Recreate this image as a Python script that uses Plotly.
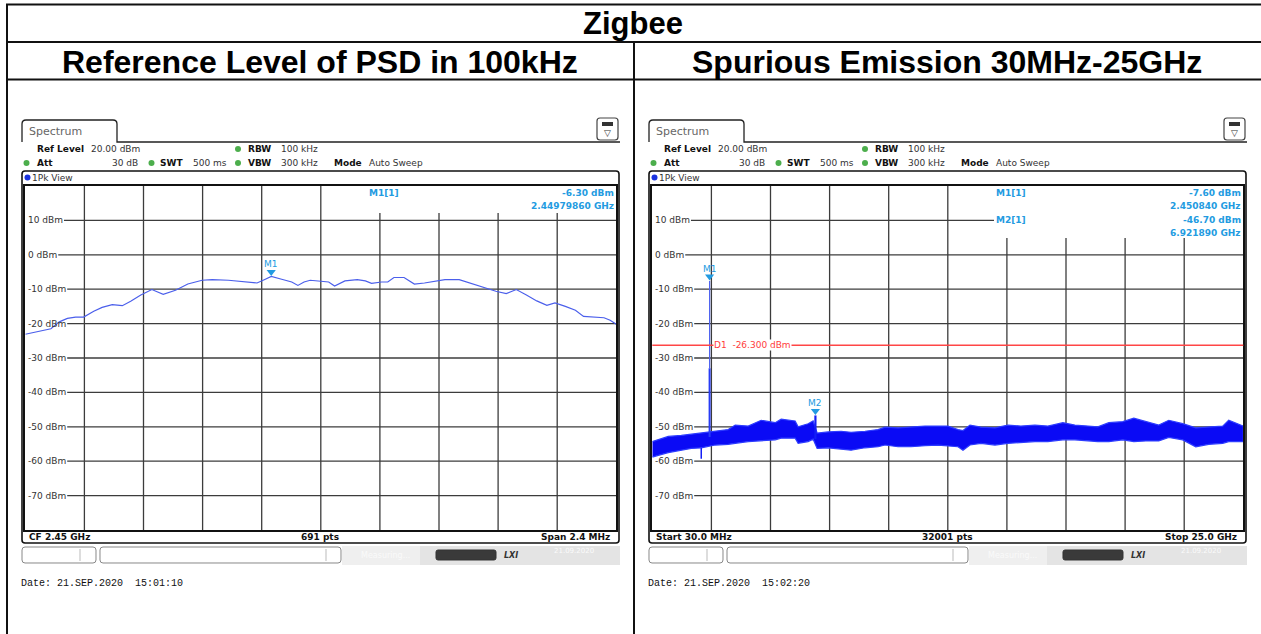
import plotly.graph_objects as go

W, H = 1261, 634

# ---------------- data ----------------
title_main = "Zigbee"
title_left = "Reference Level of PSD in 100kHz"
title_right = "Spurious Emission 30MHz-25GHz"

ref_level_dbm = 20
bottom_dbm = -80
y_tick_dbm = [10, 0, -10, -20, -30, -40, -50, -60, -70]

# left: PSD in 100 kHz, CF 2.45 GHz, span 2.4 MHz
psd_cf_ghz = 2.45
psd_span_mhz = 2.4
psd_offset_mhz = [-1.2, -1.137, -1.096, -1.062, -1.029, -0.996, -0.963, -0.922, -0.888, -0.847,
                  -0.806, -0.772, -0.731, -0.686, -0.640, -0.590, -0.540, -0.482, -0.441, -0.375,
                  -0.308, -0.259, -0.234, -0.201, -0.159, -0.118, -0.093, -0.068, -0.043, 0.007,
                  0.032, 0.056, 0.098, 0.148, 0.181, 0.206, 0.247, 0.272, 0.297, 0.338,
                  0.380, 0.421, 0.454, 0.504, 0.562, 0.620, 0.670, 0.711, 0.753, 0.794,
                  0.835, 0.877, 0.918, 0.951, 0.993, 1.034, 1.067, 1.109, 1.150, 1.175, 1.2]
psd_dbm = [-23.1, -22.2, -21.5, -19.5, -18.5, -18.1, -18.1, -16.4, -15.3, -14.5,
           -14.8, -13.5, -11.7, -10.1, -11.5, -10.3, -8.5, -7.4, -7.2, -7.4,
           -7.9, -8.2, -7.4, -6.3, -7.1, -7.9, -8.9, -7.9, -7.4, -7.6,
           -7.9, -9.1, -7.6, -7.2, -7.6, -8.3, -7.9, -7.9, -6.6, -6.6,
           -8.5, -8.2, -7.8, -7.2, -7.2, -8.5, -9.5, -10.6, -11.3, -10.1,
           -11.7, -13.4, -14.7, -14.0, -15.0, -16.1, -17.9, -18.1, -18.3, -19.0, -20.2]
psd_m1_ghz = 2.4497986
psd_m1_dbm = -6.30

# right: spurious emission 30 MHz - 25 GHz (noise band envelope)
spur_start_ghz = 0.03
spur_stop_ghz = 25.0
spur_freq_ghz = [0.030, 0.283, 0.705, 1.254, 1.676, 2.098, 2.394, 2.689, 3.238, 3.533,
                 4.082, 4.631, 5.222, 5.475, 6.066, 6.192, 6.614, 6.826, 6.994, 7.459,
                 8.007, 8.429, 9.020, 9.569, 9.864, 10.413, 10.962, 11.553, 12.101, 12.524,
                 12.946, 13.157, 13.452, 13.916, 14.507, 15.056, 15.605, 16.196, 16.744, 17.377,
                 17.884, 18.432, 18.854, 19.319, 19.910, 20.374, 20.881, 21.429, 21.851, 22.442,
                 22.991, 23.539, 24.130, 24.383, 25.000]
spur_upper_dbm = [-54.3, -53.8, -52.8, -52.5, -52.1, -51.8, -51.5, -51.3, -50.8, -49.5,
                  -49.8, -48.1, -48.8, -47.8, -48.3, -50.0, -49.1, -48.3, -51.8, -51.5,
                  -51.3, -51.6, -51.3, -50.8, -50.1, -50.3, -50.0, -49.8, -49.8, -49.8,
                  -50.8, -51.1, -49.5, -50.1, -50.3, -49.5, -49.8, -49.5, -49.8, -48.8,
                  -49.5, -49.8, -50.0, -48.8, -48.5, -47.5, -48.5, -49.5, -48.1, -49.1,
                  -50.3, -50.0, -49.8, -48.1, -49.8]
spur_lower_dbm = [-58.8, -58.3, -57.5, -56.8, -56.3, -56.1, -55.8, -55.3, -55.1, -54.8,
                  -54.3, -54.1, -53.8, -53.3, -53.3, -54.8, -54.3, -53.6, -56.3, -56.1,
                  -56.5, -56.8, -56.1, -55.8, -55.3, -55.8, -55.8, -55.5, -55.3, -55.5,
                  -55.8, -56.8, -55.3, -54.8, -55.3, -54.8, -54.5, -54.3, -54.3, -53.8,
                  -53.8, -54.1, -54.3, -54.3, -53.8, -54.3, -54.1, -54.1, -53.1, -53.8,
                  -55.8, -55.1, -54.8, -54.3, -54.3]
spur_m1_ghz, spur_m1_dbm = 2.450840, -7.60
spur_m1_shoulder_dbm = -33.0
spur_m1_base_dbm = -53.0
spur_m2_ghz, spur_m2_dbm = 6.921890, -46.70
spur_m2_base_dbm = -53.6
spur_dip_ghz, spur_dip_dbm = 2.098, -59.3
spur_d1_dbm = -26.3

left_info = dict(tab="Spectrum", cf="CF 2.45 GHz", pts="691 pts", span="Span 2.4 MHz",
                 date="Date: 21.SEP.2020  15:01:10")
right_info = dict(tab="Spectrum", cf="Start 30.0 MHz", pts="32001 pts", span="Stop 25.0 GHz",
                  date="Date: 21.SEP.2020  15:02:20")

# ---------------- layout helpers ----------------
SMALL = "DejaVu Sans"
TITLE = "Liberation Sans"
MONO = "Liberation Mono"
MK = "rgb(35,155,225)"
GRID = "#3c3c3c"

PLOT_X0, PLOT_X1 = 25.3, 616.3
PLOT_Y0, PLOT_Y1 = 186.0, 530.0
DX = 627

shapes, ann = [], []


def fx(x):
    return x / W


def fy(y):
    return 1 - y / H


def pt(x, y):
    return f"{fx(x):.5f},{fy(y):.5f}"


def pline(x0, y0, x1, y1, color="#111", width=1.5):
    shapes.append(dict(type="line", xref="paper", yref="paper", x0=fx(x0), y0=fy(y0),
                       x1=fx(x1), y1=fy(y1), line=dict(color=color, width=width), layer="above"))


def prect(x0, y0, x1, y1, fill="rgba(0,0,0,0)", color="rgba(0,0,0,0)", width=0, layer="above"):
    shapes.append(dict(type="rect", xref="paper", yref="paper", x0=fx(x0), y0=fy(y0),
                       x1=fx(x1), y1=fy(y1), fillcolor=fill,
                       line=dict(color=color, width=width), layer=layer))


def rrect(x0, y0, x1, y1, r, color="#111", width=1.5, fill="rgba(0,0,0,0)"):
    p = (f"M{pt(x0 + r, y0)} L{pt(x1 - r, y0)} Q{pt(x1, y0)} {pt(x1, y0 + r)} "
         f"L{pt(x1, y1 - r)} Q{pt(x1, y1)} {pt(x1 - r, y1)} L{pt(x0 + r, y1)} "
         f"Q{pt(x0, y1)} {pt(x0, y1 - r)} L{pt(x0, y0 + r)} Q{pt(x0, y0)} {pt(x0 + r, y0)} Z")
    shapes.append(dict(type="path", xref="paper", yref="paper", path=p, fillcolor=fill,
                       line=dict(color=color, width=width), layer="above"))


def dot(x, y, r, color):
    shapes.append(dict(type="circle", xref="paper", yref="paper", x0=fx(x - r), y0=fy(y - r),
                       x1=fx(x + r), y1=fy(y + r), fillcolor=color,
                       line=dict(color=color, width=0), layer="above"))


def txt(x, y, s, size=9, color="#222", family=SMALL, xanchor="left", yanchor="middle",
        bold=False, bg="rgba(0,0,0,0)"):
    ann.append(dict(xref="paper", yref="paper", x=fx(x), y=fy(y),
                    text=f"<b>{s}</b>" if bold else s, showarrow=False, xanchor=xanchor,
                    yanchor=yanchor, font=dict(size=size, color=color, family=family),
                    bgcolor=bg, borderpad=0))


def ypix(dbm):
    return PLOT_Y0 + (ref_level_dbm - dbm) * (PLOT_Y1 - PLOT_Y0) / (ref_level_dbm - bottom_dbm)


def dbm_at(py):
    return ref_level_dbm - (py - PLOT_Y0) * (ref_level_dbm - bottom_dbm) / (PLOT_Y1 - PLOT_Y0)


def label_width(s, size=9):
    w = {"-": .361, " ": .318, "d": .635, "B": .686, "m": .974}
    return sum(w.get(c, .636) for c in s) * size


# ---------------- table ----------------
pline(6, 4.5, 1261, 4.5, width=2)
pline(6, 42, 1261, 42, width=2)
pline(6, 79.5, 1261, 79.5, width=2)
pline(7, 4.5, 7, 634, width=2)
pline(634, 42, 634, 634, width=2)
txt(633, 24, title_main, size=31, color="#000", family=TITLE, xanchor="center", bold=True)
txt(320, 62, title_left, size=32, color="#000", family=TITLE, xanchor="center", bold=True)
txt(946.5, 62, title_right, size=32, color="#000", family=TITLE, xanchor="center", bold=True)


# ---------------- analyzer frame (per panel) ----------------
def panel(dx, info, xa, x_lo, x_hi, info_rows, info_box_bottom, ten_line_end_px):
    # tab
    p = (f"M{pt(dx + 22, 142)} L{pt(dx + 22, 124)} Q{pt(dx + 22, 120)} {pt(dx + 26, 120)} "
         f"L{pt(dx + 113, 120)} Q{pt(dx + 117, 120)} {pt(dx + 117, 124)} L{pt(dx + 117, 142)} "
         f"L{pt(dx + 620, 142)}")
    shapes.append(dict(type="path", xref="paper", yref="paper", path=p,
                       line=dict(color="#222", width=1.3), layer="above"))
    txt(dx + 28, 131, info["tab"], size=11, color="#666")
    # icon
    rrect(dx + 597, 118, dx + 618, 140, 3, color="#444", width=1.2, fill="white")
    prect(dx + 602, 122, dx + 613, 126, fill="#333")
    txt(dx + 607.5, 132.5, "▽", size=9, color="#333", xanchor="center")
    # settings rows
    txt(dx + 36, 149, "Ref Level", bold=True, color="#111")
    txt(dx + 90, 149, "20.00 dBm", color="#333")
    dot(dx + 238, 149, 3, "#4cae4c")
    txt(dx + 247, 149, "RBW", bold=True, color="#111")
    txt(dx + 280, 149, "100 kHz", color="#333")
    dot(dx + 26.5, 163, 3, "#4cae4c")
    txt(dx + 36, 163, "Att", bold=True, color="#111")
    txt(dx + 139, 163, "30 dB", color="#333", xanchor="right")
    dot(dx + 151.5, 163, 3, "#4cae4c")
    txt(dx + 159, 163, "SWT", bold=True, color="#111")
    txt(dx + 192, 163, "500 ms", color="#333")
    dot(dx + 238, 163, 3, "#4cae4c")
    txt(dx + 247, 163, "VBW", bold=True, color="#111")
    txt(dx + 280, 163, "300 kHz", color="#333")
    txt(dx + 333, 163, "Mode", bold=True, color="#111")
    txt(dx + 368, 163, "Auto Sweep", color="#333")
    # view box
    rrect(dx + 22, 171, dx + 619, 543, 3, color="#111", width=1.6)
    dot(dx + 27.5, 177.5, 3, "#1b33e0")
    txt(dx + 31, 177.5, "1Pk View", color="#333")
    # bottom status of view
    txt(dx + 28, 536.5, info["cf"], bold=True, color="#111")
    txt(dx + 320, 536.5, info["pts"], bold=True, color="#111", xanchor="center")
    txt(dx + 611, 536.5, info["span"], bold=True, color="#111", xanchor="right")
    # y labels and horizontal grid
    span = x_hi - x_lo

    def xdata(px):
        return x_lo + (px - dx - PLOT_X0) / (PLOT_X1 - PLOT_X0) * span
    for t in y_tick_dbm:
        lab = f"{t} dBm"
        txt(dx + 27, ypix(t), lab, color="#333")
        x0 = xdata(dx + 29 + label_width(lab))
        x1 = x_hi if (t != 10 or ten_line_end_px is None) else xdata(ten_line_end_px)
        shapes.append(dict(type="line", xref=xa, yref=xa.replace("x", "y"), x0=x0, x1=x1,
                           y0=t, y1=t, line=dict(color=GRID, width=1.3), layer="below"))
    for i in range(1, 10):
        xv = x_lo + i * span / 10
        top = ref_level_dbm if i <= 5 else dbm_at(info_box_bottom)
        shapes.append(dict(type="line", xref=xa, yref=xa.replace("x", "y"), x0=xv, x1=xv,
                           y0=bottom_dbm, y1=top, line=dict(color=GRID, width=1.3), layer="below"))
    # marker info block
    for (lab, val, freq, yy) in info_rows:
        if lab:
            txt(dx + 368, yy, lab, bold=True, color=MK)
        txt(dx + 615, yy, val, bold=True, color=MK, xanchor="right")
        txt(dx + 615, yy + 13, freq, bold=True, color=MK, xanchor="right")
    # status bar under the view
    rrect(dx + 22, 547, dx + 96, 563, 3, color="#888", width=1)
    pline(dx + 80, 549, dx + 80, 561, color="#bbb", width=1)
    rrect(dx + 100, 547, dx + 341, 563, 3, color="#888", width=1)
    pline(dx + 326, 549, dx + 326, 561, color="#bbb", width=1)
    prect(dx + 342, 546, dx + 620, 565, fill="#e4e4e4")
    prect(dx + 342, 546, dx + 420, 565, fill="#efefef")
    txt(dx + 360, 555, "Measuring...", size=8, color="#fafafa")
    rrect(dx + 436, 550, dx + 496, 560, 2, color="#333", width=1, fill="#3a3a3a")
    txt(dx + 503, 555, "<i>LXI</i>", size=8, color="#333", bold=True)
    txt(dx + 553, 551, "21.09.2020", size=7, color="#fbfbfb")
    # date
    txt(dx + 20, 583, info["date"], size=10, color="#111", family=MONO)


psd_x_lo = psd_cf_ghz - psd_span_mhz / 2000
psd_x_hi = psd_cf_ghz + psd_span_mhz / 2000
panel(0, left_info, "x", psd_x_lo, psd_x_hi,
      [("M1[1]", f"{psd_m1_dbm:.2f} dBm", f"{psd_m1_ghz:.8f} GHz", 193)], 213, None)
panel(DX, right_info, "x2", spur_start_ghz, spur_stop_ghz,
      [("M1[1]", f"{spur_m1_dbm:.2f} dBm", f"{spur_m1_ghz:.6f} GHz", 193),
       ("M2[1]", f"{spur_m2_dbm:.2f} dBm", f"{spur_m2_ghz:.6f} GHz", 220)], 238, 994)

# display line D1
shapes.append(dict(type="line", xref="x2 domain", yref="y2", x0=0, x1=1, y0=spur_d1_dbm,
                   y1=spur_d1_dbm, line=dict(color="rgb(255,70,70)", width=1.3), layer="above"))
ann.append(dict(xref="x2", yref="y2", x=spur_m1_ghz, y=spur_d1_dbm, xshift=3,
                text=f"D1  {spur_d1_dbm:.3f} dBm", showarrow=False, xanchor="left",
                yanchor="middle", font=dict(size=9, color="rgb(255,60,60)", family=SMALL),
                bgcolor="white", borderpad=0))

# ---------------- traces ----------------
fig = go.Figure()
psd_freq_ghz = [psd_cf_ghz + o / 1000 for o in psd_offset_mhz]
fig.add_trace(go.Scatter(x=psd_freq_ghz, y=psd_dbm, mode="lines", xaxis="x", yaxis="y",
                         line=dict(color="rgb(75,95,235)", width=1.2), hoverinfo="skip"))
fig.add_trace(go.Scatter(x=[psd_m1_ghz], y=[psd_m1_dbm + 1.3], mode="markers", xaxis="x", yaxis="y",
                         marker=dict(symbol="triangle-down", size=8, color=MK), hoverinfo="skip"))
ann.append(dict(xref="x", yref="y", x=psd_m1_ghz, y=psd_m1_dbm, yshift=12, text="M1",
                showarrow=False, font=dict(size=9, color=MK, family=SMALL)))

band_x = spur_freq_ghz + spur_freq_ghz[::-1]
band_y = spur_upper_dbm + spur_lower_dbm[::-1]
fig.add_trace(go.Scatter(x=band_x, y=band_y, mode="lines", fill="toself", xaxis="x2", yaxis="y2",
                         fillcolor="rgb(10,10,245)", line=dict(color="rgb(45,60,255)", width=1.2),
                         hoverinfo="skip"))
fig.add_trace(go.Scatter(x=[spur_m1_ghz, spur_m1_ghz], y=[spur_m1_base_dbm, spur_m1_shoulder_dbm],
                         mode="lines", xaxis="x2", yaxis="y2",
                         line=dict(color="rgb(40,60,245)", width=2), hoverinfo="skip"))
fig.add_trace(go.Scatter(x=[spur_m1_ghz, spur_m1_ghz], y=[spur_m1_shoulder_dbm, spur_m1_dbm],
                         mode="lines", xaxis="x2", yaxis="y2",
                         line=dict(color="rgb(80,100,240)", width=1.2), hoverinfo="skip"))
fig.add_trace(go.Scatter(x=[spur_m2_ghz, spur_m2_ghz], y=[spur_m2_base_dbm, spur_m2_dbm],
                         mode="lines", xaxis="x2", yaxis="y2",
                         line=dict(color="rgb(20,30,245)", width=2.2), hoverinfo="skip"))
fig.add_trace(go.Scatter(x=[spur_dip_ghz, spur_dip_ghz], y=[spur_lower_dbm[5], spur_dip_dbm],
                         mode="lines", xaxis="x2", yaxis="y2",
                         line=dict(color="rgb(20,30,245)", width=1.5), hoverinfo="skip"))
fig.add_trace(go.Scatter(x=[spur_m1_ghz, spur_m2_ghz], y=[spur_m1_dbm + 1.3, spur_m2_dbm + 1.3],
                         mode="markers", xaxis="x2", yaxis="y2",
                         marker=dict(symbol="triangle-down", size=8, color=MK), hoverinfo="skip"))
for name, fx_, fy_ in [("M1", spur_m1_ghz, spur_m1_dbm), ("M2", spur_m2_ghz, spur_m2_dbm)]:
    ann.append(dict(xref="x2", yref="y2", x=fx_, y=fy_, yshift=12, text=name,
                    showarrow=False, font=dict(size=9, color=MK, family=SMALL)))

axis_common = dict(showgrid=False, zeroline=False, showticklabels=False, ticks="",
                   showline=True, mirror=True, linecolor="#111", linewidth=1.5, fixedrange=True)
fig.update_layout(
    width=W, height=H, margin=dict(l=0, r=0, t=0, b=0),
    paper_bgcolor="white", plot_bgcolor="rgba(0,0,0,0)", showlegend=False,
    xaxis=dict(domain=[fx(PLOT_X0), fx(PLOT_X1)], range=[psd_x_lo, psd_x_hi], **axis_common),
    yaxis=dict(domain=[fy(PLOT_Y1), fy(PLOT_Y0)], range=[bottom_dbm, ref_level_dbm], **axis_common),
    xaxis2=dict(domain=[fx(PLOT_X0 + DX), fx(PLOT_X1 + DX)], range=[spur_start_ghz, spur_stop_ghz],
                anchor="y2", **axis_common),
    yaxis2=dict(domain=[fy(PLOT_Y1), fy(PLOT_Y0)], range=[bottom_dbm, ref_level_dbm],
                anchor="x2", **axis_common),
    shapes=shapes, annotations=ann,
)

fig.write_html("out.html", config={"displayModeBar": False},
               post_script="document.body.style.margin='0px';")
